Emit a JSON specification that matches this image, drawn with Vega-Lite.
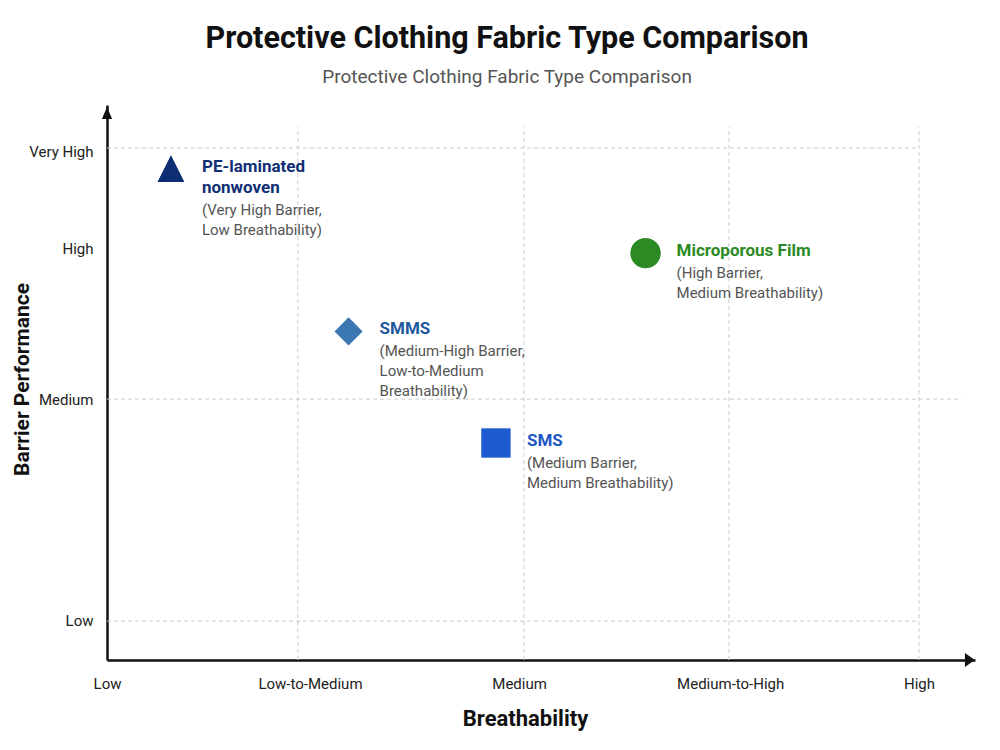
{
  "$schema": "https://vega.github.io/schema/vega-lite/v6.json",
  "width": 868,
  "height": 555,
  "autosize": {"type": "none"},
  "padding": {"left": 107, "top": 105, "right": 25, "bottom": 90},
  "background": "white",
  "title": {
    "text": "Protective Clothing Fabric Type Comparison",
    "subtitle": "Protective Clothing Fabric Type Comparison",
    "font": "Roboto",
    "fontSize": 30.5,
    "fontWeight": "bold",
    "color": "#111111",
    "subtitleFont": "Roboto",
    "subtitleFontSize": 19,
    "subtitleColor": "#555555",
    "subtitlePadding": 14,
    "anchor": "middle",
    "dx": -34,
    "offset": 18
  },
  "config": {
    "view": {"stroke": null},
    "axis": {
      "grid": false,
      "ticks": false,
      "domainColor": "#111111",
      "domainWidth": 2.5,
      "labelFont": "Roboto",
      "labelFontSize": 15,
      "labelColor": "#222222",
      "labelOverlap": false,
      "titleFont": "Roboto",
      "titleFontWeight": "bold",
      "titleColor": "#111111"
    }
  },
  "datasets": {
    "fabrics": [
      {"fabric": "PE-laminated nonwoven", "breath": 0.315, "barrier": 8.85, "name": ["PE-laminated", "nonwoven"], "detail": ["(Very High Barrier,", "Low Breathability)"]},
      {"fabric": "SMMS", "breath": 1.19, "barrier": 5.92, "name": ["SMMS"], "detail": ["(Medium-High Barrier,", "Low-to-Medium", "Breathability)"]},
      {"fabric": "SMS", "breath": 1.916, "barrier": 3.91, "name": ["SMS"], "detail": ["(Medium Barrier,", "Medium Breathability)"]},
      {"fabric": "Microporous Film", "breath": 2.653, "barrier": 7.33, "name": ["Microporous Film"], "detail": ["(High Barrier,", "Medium Breathability)"]}
    ],
    "xgrid": [{"breath": 0.94}, {"breath": 2.054}, {"breath": 3.064}, {"breath": 4.0}],
    "ygrid": [{"level": "Low", "barrier": 0.7}, {"level": "Medium", "barrier": 4.7}, {"level": "Very High", "barrier": 9.225}]
  },
  "resolve": {"scale": {"color": "independent"}},
  "layer": [
    {
      "data": {"name": "fabrics"},
      "mark": {"type": "point", "filled": true, "opacity": 1},
      "encoding": {
        "x": {
          "field": "breath",
          "type": "quantitative",
          "scale": {"domain": [0, 4.276], "nice": false, "zero": false},
          "axis": {
            "values": [0, 1, 2.03, 3.07, 4],
            "labelExpr": "datum.value == 0 ? 'Low' : datum.value == 1 ? 'Low-to-Medium' : datum.value == 2.03 ? 'Medium' : datum.value == 3.07 ? 'Medium-to-High' : 'High'",
            "title": "Breathability",
            "labelPadding": 16,
            "labelFlush": false,
            "titleFontSize": 22,
            "titlePadding": 17,
            "titleX": 418
          }
        },
        "y": {
          "field": "barrier",
          "type": "quantitative",
          "scale": {"domain": [0, 10], "nice": false, "zero": false},
          "axis": {
            "values": [0.72, 4.7, 7.41, 9.17],
            "labelExpr": "datum.value == 0.72 ? 'Low' : datum.value == 4.7 ? 'Medium' : datum.value == 7.41 ? 'High' : 'Very High'",
            "title": "Barrier Performance",
            "labelPadding": 14,
            "titleFontSize": 21,
            "titlePadding": -4,
            "titleY": 274
          }
        },
        "shape": {"field": "fabric", "type": "nominal", "legend": null,
          "scale": {"domain": ["PE-laminated nonwoven", "SMMS", "SMS", "Microporous Film"], "range": ["M0,-1L-1,1L1,1Z", "diamond", "square", "circle"]}},
        "size": {"field": "fabric", "type": "nominal", "legend": null,
          "scale": {"domain": ["PE-laminated nonwoven", "SMMS", "SMS", "Microporous Film"], "range": [700, 900, 729, 650]}},
        "color": {"field": "fabric", "type": "nominal", "legend": null,
          "scale": {"domain": ["PE-laminated nonwoven", "SMMS", "SMS", "Microporous Film"], "range": ["#0f2d72", "#3a77b3", "#1f5bd0", "#2b8a24"]}}
      }
    },
    {
      "data": {"name": "xgrid"},
      "mark": {"type": "rule", "color": "#cccccc", "strokeWidth": 1, "strokeDash": [4, 3]},
      "encoding": {
        "x": {"field": "breath", "type": "quantitative"},
        "y": {"datum": 0, "type": "quantitative"},
        "y2": {"datum": 9.6}
      }
    },
    {
      "data": {"name": "ygrid"},
      "transform": [{"filter": "datum.level != 'Medium'"}],
      "mark": {"type": "rule", "color": "#cccccc", "strokeWidth": 1, "strokeDash": [4, 3]},
      "encoding": {
        "y": {"field": "barrier", "type": "quantitative"},
        "x": {"datum": 0, "type": "quantitative"},
        "x2": {"datum": 4.0}
      }
    },
    {
      "data": {"name": "ygrid"},
      "transform": [{"filter": "datum.level == 'Medium'"}],
      "mark": {"type": "rule", "color": "#cccccc", "strokeWidth": 1, "strokeDash": [4, 3]},
      "encoding": {
        "y": {"field": "barrier", "type": "quantitative"},
        "x": {"datum": 0, "type": "quantitative"},
        "x2": {"datum": 4.21}
      }
    },
    {
      "data": {"values": [{}]},
      "mark": {"type": "point", "filled": true, "opacity": 1, "color": "#111111", "shape": "M1,0L-1,-1.4L-1,1.4Z", "size": 100},
      "encoding": {
        "x": {"datum": 4.251, "type": "quantitative"},
        "y": {"datum": 0, "type": "quantitative"}
      }
    },
    {
      "data": {"values": [{}]},
      "mark": {"type": "point", "filled": true, "opacity": 1, "color": "#111111", "shape": "M0,-1L-0.85,1L0.85,1Z", "size": 144},
      "encoding": {
        "x": {"datum": 0, "type": "quantitative"},
        "y": {"datum": 9.856, "type": "quantitative"}
      }
    },
    {
      "data": {"name": "fabrics"},
      "mark": {"type": "point", "filled": true, "opacity": 1},
      "encoding": {
        "x": {"field": "breath", "type": "quantitative"},
        "y": {"field": "barrier", "type": "quantitative"},
        "shape": {"field": "fabric", "type": "nominal", "legend": null},
        "size": {"field": "fabric", "type": "nominal", "legend": null},
        "color": {"field": "fabric", "type": "nominal", "legend": null,
          "scale": {"domain": ["PE-laminated nonwoven", "SMMS", "SMS", "Microporous Film"], "range": ["#0f2d72", "#3a77b3", "#1f5bd0", "#2b8a24"]}}
      }
    },
    {
      "data": {"name": "fabrics"},
      "mark": {"type": "text", "align": "left", "baseline": "alphabetic", "dx": 31, "dy": 3, "font": "Roboto", "fontSize": 17, "fontWeight": "bold", "lineHeight": 20.7},
      "encoding": {
        "x": {"field": "breath", "type": "quantitative"},
        "y": {"field": "barrier", "type": "quantitative"},
        "text": {"field": "name"},
        "color": {"field": "fabric", "type": "nominal", "legend": null,
          "scale": {"domain": ["PE-laminated nonwoven", "SMMS", "SMS", "Microporous Film"], "range": ["#102f75", "#1f589c", "#1d55c3", "#2b8a24"]}}
      }
    },
    {
      "data": {"name": "fabrics"},
      "transform": [{"filter": "datum.fabric == 'PE-laminated nonwoven'"}],
      "mark": {"type": "text", "align": "left", "baseline": "alphabetic", "dx": 31, "dy": 45.7, "font": "Roboto", "fontSize": 15, "color": "#555555", "lineHeight": 20},
      "encoding": {
        "x": {"field": "breath", "type": "quantitative"},
        "y": {"field": "barrier", "type": "quantitative"},
        "text": {"field": "detail"}
      }
    },
    {
      "data": {"name": "fabrics"},
      "transform": [{"filter": "datum.fabric != 'PE-laminated nonwoven'"}],
      "mark": {"type": "text", "align": "left", "baseline": "alphabetic", "dx": 31, "dy": 25, "font": "Roboto", "fontSize": 15, "color": "#555555", "lineHeight": 20},
      "encoding": {
        "x": {"field": "breath", "type": "quantitative"},
        "y": {"field": "barrier", "type": "quantitative"},
        "text": {"field": "detail"}
      }
    }
  ]
}
